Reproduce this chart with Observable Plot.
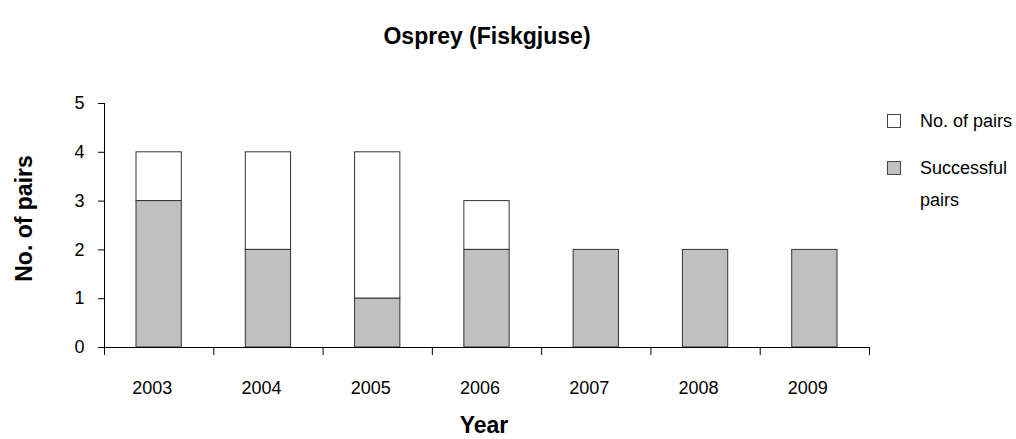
<!DOCTYPE html>
<html><head><meta charset="utf-8">
<script src="https://cdn.jsdelivr.net/npm/d3@7"></script>
<script src="https://cdn.jsdelivr.net/npm/@observablehq/plot@0.6"></script>
<style>
body{margin:0;background:#fff;font-family:"Liberation Sans",Arial,sans-serif;}
#wrap{position:relative;width:1016px;height:439px;overflow:hidden;}
.lt{position:absolute;left:920px;font-size:18px;line-height:20px;color:#000;white-space:nowrap;}
.sw{position:absolute;left:887px;width:12px;height:12px;border:1px solid #444;}
</style></head><body><div id="wrap"></div>
<script>
const years = ["2003","2004","2005","2006","2007","2008","2009"];
const totalPairs = [4,4,4,3,2,2,2];
const successfulPairs = [3,2,1,2,2,2,2];
const seriesNames = ["No. of pairs","Successful pairs"];
const yTicks = [0,1,2,3,4,5];
const titleText = "Osprey (Fiskgjuse)";
const xTitle = "Year";
const yTitle = "No. of pairs";

const rows = years.map((year,i)=>({i, year, total: totalPairs[i], successful: successfulPairs[i]}));
const font = '"Liberation Sans", Arial, sans-serif';

const chart = Plot.plot({
  width:1016, height:439,
  marginTop:103, marginBottom:92, marginLeft:104, marginRight:147,
  style:{fontFamily:font, fontSize:"18px", color:"#000", background:"white", overflow:"visible"},
  x:{type:"linear", domain:[0, years.length]},
  y:{domain:[0,5]},
  marks:[
    Plot.rectY(rows,{x1:"i", x2:d=>d.i+1, y1:"successful", y2:"total", fill:"white", stroke:"#333", strokeWidth:1, insetLeft:32, insetRight:32}),
    Plot.rectY(rows,{x1:"i", x2:d=>d.i+1, y1:0, y2:"successful", fill:"#c0c0c0", stroke:"#333", strokeWidth:1, insetLeft:32, insetRight:32}),
    Plot.axisY(yTicks,{tickSize:6, tickPadding:14, label:null, stroke:"#000"}),
    Plot.ruleX([0],{stroke:"#000"}),
    Plot.ruleY([0],{stroke:"#000"}),
    Plot.axisX(d3.range(years.length+1),{tickSize:8, tickFormat:()=>"", label:null, stroke:"#000"}),
    Plot.axisX(rows.map(d=>d.i+0.5),{tickSize:0, tickPadding:34, dx:-7, tickFormat:d=>years[Math.floor(d)], label:null}),
    Plot.text([titleText],{frameAnchor:"top", dy:-76, fontWeight:"bold", fontSize:23}),
    Plot.text([xTitle],{frameAnchor:"bottom", dy:85, dx:-3, fontWeight:"bold", fontSize:23}),
    Plot.text([yTitle],{frameAnchor:"left", textAnchor:"middle", dx:-80, dy:-7, rotate:-90, fontWeight:"bold", fontSize:23})
  ]
});
const wrap = document.getElementById("wrap");
wrap.appendChild(chart);

const legendItems = [
  {name: seriesNames[0], fill: "white", lines: ["No. of pairs"], top: 114},
  {name: seriesNames[1], fill: "#c0c0c0", lines: ["Successful","pairs"], top: 161}
];
legendItems.forEach(it=>{
  const sw = document.createElement("div");
  sw.className = "sw"; sw.style.top = it.top + "px"; sw.style.background = it.fill;
  wrap.appendChild(sw);
  it.lines.forEach((ln,k)=>{
    const t = document.createElement("div");
    t.className = "lt"; t.textContent = ln;
    t.style.top = (it.top - 3 + k*32) + "px";
    wrap.appendChild(t);
  });
});
</script></body></html>
